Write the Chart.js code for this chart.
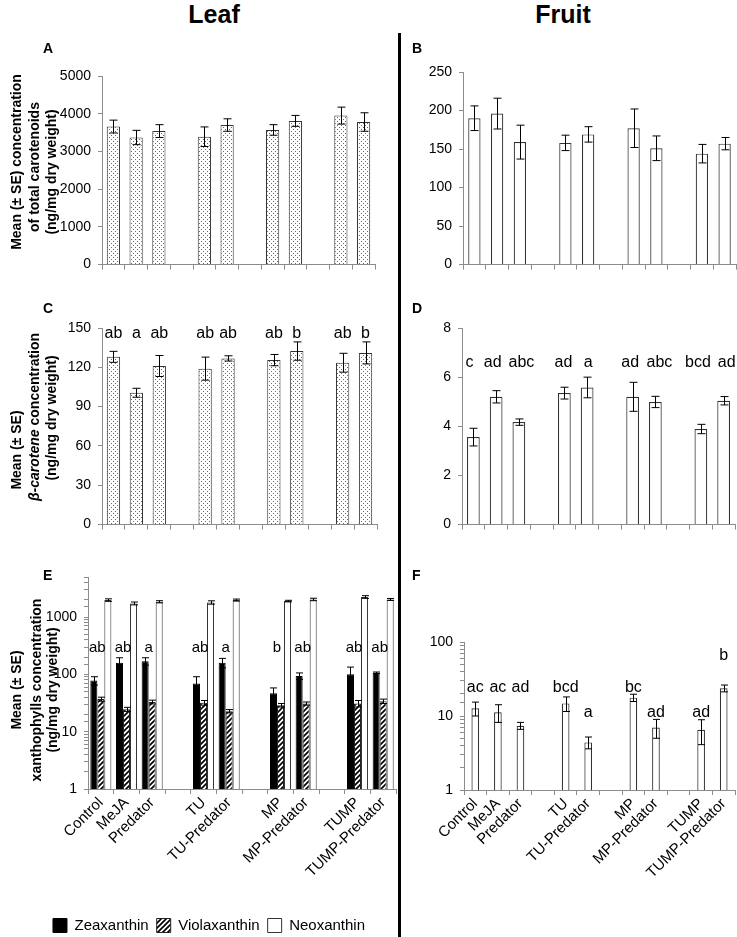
<!DOCTYPE html>
<html><head><meta charset="utf-8">
<script src="https://cdn.jsdelivr.net/npm/chart.js@4.4.1/dist/chart.umd.min.js"></script>
<style>
body{margin:0;background:#fff;}
#wrap{position:relative;width:737px;height:937px;overflow:hidden;font-family:"Liberation Sans",Arial,Helvetica,sans-serif;color:#000;}
canvas{position:absolute;}
.col{position:absolute;font-weight:bold;font-size:25px;line-height:25px;transform:translateX(-50%);white-space:nowrap;}
.pl{position:absolute;font-weight:bold;font-size:14px;line-height:14px;}
#sep{position:absolute;left:398px;top:33px;width:3px;height:904px;background:#000;}
</style></head>
<body><div id="wrap">
<div class="col" style="left:214px;top:2px">Leaf</div>
<div class="col" style="left:563px;top:2px">Fruit</div>
<canvas id="cA" width="398" height="240" style="left:0;top:40px"></canvas>
<canvas id="cB" width="337" height="240" style="left:400px;top:40px"></canvas>
<canvas id="cC" width="398" height="240" style="left:0;top:300px"></canvas>
<canvas id="cD" width="337" height="240" style="left:400px;top:300px"></canvas>
<canvas id="cE" width="398" height="383" style="left:0;top:560px"></canvas>
<canvas id="cF" width="337" height="377" style="left:400px;top:560px"></canvas>
<div id="sep"></div>
<div class="pl" style="left:43px;top:41px">A</div>
<div class="pl" style="left:412px;top:41px">B</div>
<div class="pl" style="left:43px;top:301px">C</div>
<div class="pl" style="left:412px;top:301px">D</div>
<div class="pl" style="left:43px;top:568px">E</div>
<div class="pl" style="left:412px;top:568px">F</div>
</div>
<script>
// ---------------- DATA ----------------
const treatments = ['Control','MeJA','Predator','TU','TU-Predator','MP','MP-Predator','TUMP','TUMP-Predator'];
const groupSizes = [3,2,2,2];

// A: leaf total carotenoids
const leafTotal   = [3660,3370,3540,3390,3700,3570,3810,3950,3780];
const leafTotalSE = [170,190,170,260,165,140,145,225,245];
const leafTotalTicks = {min:0, max:5000, step:1000};

// B: fruit total carotenoids
const fruitTotal   = [190,196,159,158,169,177,151,144,157];
const fruitTotalSE = [16,20,22,10,10,25,16,12,8];
const fruitTotalTicks = {min:0, max:250, step:50};

// C: leaf beta-carotene
const leafBeta   = [128,100.6,121,119,126.8,125.5,132.4,123.5,131];
const leafBetaSE = [4.2,3.4,8,8.8,2,4.3,7,7.2,8.4];
const leafBetaLetters = ['ab','a','ab','ab','ab','ab','b','ab','b'];
const leafBetaLetterY = 142;
const leafBetaTicks = {min:0, max:150, step:30};

// D: fruit beta-carotene
const fruitBeta   = [3.56,5.2,4.17,5.35,5.58,5.2,4.99,3.89,5.04];
const fruitBetaSE = [0.36,0.25,0.13,0.24,0.42,0.59,0.23,0.19,0.17];
const fruitBetaLetters = ['c','ad','abc','ad','a','ad','abc','bcd','ad'];
const fruitBetaLetterY = 6.4;
const fruitBetaTicks = {min:0, max:8, step:2};

// E: leaf xanthophylls (log)
const leafZea   = [78,160,170,69,160,47,94,101,107];
const leafZeaSE = [13,35,25,22,30,11,12,33,3];
const leafVio   = [37,24.6,33,32,22.8,29,31,31,34];
const leafVioSE = [3,2,2.5,3,1.5,2,2,4,3];
const leafNeo   = [1980,1730,1850,1800,1980,1900,2030,2240,2030];
const leafNeoSE = [100,100,80,120,80,60,100,120,80];
const leafXanLetters = ['ab','ab','a','ab','a','b','ab','ab','ab'];
const leafXanLetterY = 250;
const leafXanRange = {min:1, max:5000};

// F: fruit xanthophylls (log)
const fruitXan   = [12.7,11.2,7.4,14.8,4.4,17.7,7.0,6.5,23.7];
const fruitXanSE = [2.7,3,0.8,3.3,0.8,2,2,2.4,2.5];
const fruitXanLetters = ['ac','ac','ad','bcd','a','bc','ad','ad','b'];
const fruitXanLetterY = [21,21,21,21,9.6,21,9.6,9.6,58];
const fruitXanRange = {min:1, max:100};

const seriesNames = ['Zeaxanthin','Violaxanthin','Neoxanthin'];

// ---------------- HELPERS ----------------
function toSlots(arr){
  const out=[]; let k=0;
  groupSizes.forEach((g,gi)=>{ if(gi>0) out.push(null); for(let j=0;j<g;j++) out.push(arr[k++]); });
  return out;
}
const slotLabels = toSlots(treatments).map(v=>v===null?'':v);

const FONT = '"Liberation Sans", Arial, Helvetica, sans-serif';
Chart.defaults.font.family = FONT;
Chart.defaults.color = '#000';
const AX = '#8c8c8c';

function dotPattern(ctx){
  const c=document.createElement('canvas'); c.width=4; c.height=4;
  const g=c.getContext('2d'); g.fillStyle='#fff'; g.fillRect(0,0,4,4);
  g.fillStyle='#6a6a6a'; g.fillRect(1,1,1,1); g.fillRect(3,3,1,1);
  return ctx.createPattern(c,'repeat');
}
function hatchPattern(ctx){
  const s=5; const c=document.createElement('canvas'); c.width=s; c.height=s;
  const g=c.getContext('2d'); g.fillStyle='#fff'; g.fillRect(0,0,s,s);
  g.strokeStyle='#000'; g.lineWidth=1.7; g.beginPath();
  g.moveTo(-1,s+1); g.lineTo(s+1,-1);
  g.moveTo(-1,1); g.lineTo(1,-1);
  g.moveTo(s-1,s+1); g.lineTo(s+1,s-1);
  g.stroke();
  return ctx.createPattern(c,'repeat');
}

const errPlugin = {
  id:'err',
  afterDatasetsDraw(chart){
    const ctx=chart.ctx, y=chart.scales.y;
    chart.data.datasets.forEach((ds,di)=>{
      if(!ds.se) return;
      const meta=chart.getDatasetMeta(di);
      meta.data.forEach((bar,i)=>{
        const v=ds.data[i], e=ds.se[i];
        if(v==null||e==null) return;
        const x=Math.round(bar.x)+0.5, yt=y.getPixelForValue(v+e), yb=y.getPixelForValue(v-e);
        const cap=ds.cap||4;
        ctx.save(); ctx.strokeStyle='#000'; ctx.lineWidth=1;
        ctx.beginPath();
        ctx.moveTo(x,yt); ctx.lineTo(x,yb);
        ctx.moveTo(x-cap,yt); ctx.lineTo(x+cap,yt);
        ctx.moveTo(x-cap,yb); ctx.lineTo(x+cap,yb);
        ctx.stroke(); ctx.restore();
      });
    });
  }
};

const lettersPlugin = {
  id:'letters',
  afterDatasetsDraw(chart, args, opts){
    const labels=opts.labels; if(!labels) return;
    const meta=chart.getDatasetMeta(opts.anchor||0);
    const y=chart.scales.y, ctx=chart.ctx;
    ctx.save(); ctx.font=opts.size+'px '+FONT; ctx.fillStyle='#000';
    ctx.textAlign='center'; ctx.textBaseline='alphabetic';
    for(let i=0;i<labels.length;i++){
      const t=labels[i]; if(!t) continue;
      const bar=meta.data[i];
      const nudge=opts.dx?(opts.dx[i]||0):0;
      const x=bar.x+(opts.side==='right'?bar.width/2:0)+nudge;
      const lv=(typeof opts.y==='number')?opts.y:opts.y[i];
      ctx.fillText(t,x,y.getPixelForValue(lv));
    }
    ctx.restore();
  }
};

const yTitlePlugin = {
  id:'ytitle',
  afterDraw(chart, args, opts){
    const lines=opts.lines; if(!lines) return;
    const ctx=chart.ctx;
    for(let k=0;k<lines.length;k++){
      const l=lines[k];
      ctx.save(); ctx.translate(l.x,l.y); ctx.rotate(-Math.PI/2);
      ctx.fillStyle='#000'; ctx.textBaseline='middle'; ctx.textAlign='left';
      const segs=l.segs;
      const fonts=[]; let total=0;
      for(let i=0;i<segs.length;i++){
        fonts.push((segs[i].italic?'italic ':'')+'bold '+opts.size+'px '+FONT);
        ctx.font=fonts[i]; total+=ctx.measureText(segs[i].t).width;
      }
      let x=-total/2;
      for(let i=0;i<segs.length;i++){
        ctx.font=fonts[i]; ctx.fillText(segs[i].t,x,0); x+=ctx.measureText(segs[i].t).width;
      }
      ctx.restore();
    }
  }
};

function logLabel(v){ const l=Math.log10(v); return Math.abs(l-Math.round(l))<1e-9 ? String(Math.round(v)) : ''; }

function panel(id, o){
  const ctx=document.getElementById(id).getContext('2d');
  return new Chart(ctx, {
    type:'bar',
    data:{labels:slotLabels, datasets:o.datasets(ctx)},
    options:{
      responsive:false, animation:false, devicePixelRatio:1,
      layout:{padding:{top:o.padTop, right:o.padRight, left:o.padLeft||0, bottom:0}},
      datasets:{bar:{categoryPercentage:o.catPct, barPercentage:o.barPct}},
      plugins:{
        legend:o.legend||{display:false},
        tooltip:{enabled:false},
        letters:o.letters||{},
        ytitle:o.ytitle||{}
      },
      scales:{
        x:{
          grid:{offset:true, drawOnChartArea:false, tickLength:5, color:AX},
          border:{color:AX, width:1},
          ticks:{display:!!o.showX, autoSkip:false, minRotation:45, maxRotation:45, padding:0, font:{size:15}, color:'#000'},
          afterFit:s=>{s.height=o.xH;}
        },
        y:{
          type:o.log?'logarithmic':'linear', min:o.min, max:o.max,
          grid:{drawOnChartArea:false, tickLength:4, color:AX},
          border:{color:AX, width:1},
          ticks:{stepSize:o.step, autoSkip:false, padding:7, font:{size:14}, color:'#000',
                 callback:o.log?logLabel:(v=>String(v))},
          afterFit:s=>{s.width=o.yW;}
        }
      }
    },
    plugins:[errPlugin, lettersPlugin, yTitlePlugin]
  });
}

// A
panel('cA', {
  padTop:36, padRight:23, yW:102, xH:12, catPct:1, barPct:0.58,
  min:leafTotalTicks.min, max:leafTotalTicks.max, step:leafTotalTicks.step,
  datasets:ctx=>[{data:toSlots(leafTotal), se:toSlots(leafTotalSE), backgroundColor:dotPattern(ctx), borderColor:'#333', borderWidth:1, cap:4}],
  ytitle:{size:14, lines:[
    {x:17, y:122, segs:[{t:'Mean (± SE) concentration'}]},
    {x:35, y:127, segs:[{t:'of total carotenoids'}]},
    {x:52, y:132, segs:[{t:'(ng/mg dry weight)'}]}
  ]}
});
// B
panel('cB', {
  padTop:32, padRight:1, yW:63, xH:12, catPct:1, barPct:0.54,
  min:fruitTotalTicks.min, max:fruitTotalTicks.max, step:fruitTotalTicks.step,
  datasets:ctx=>[{data:toSlots(fruitTotal), se:toSlots(fruitTotalSE), backgroundColor:'#fff', borderColor:'#333', borderWidth:1.2, cap:4}]
});
// C
panel('cC', {
  padTop:28, padRight:21, yW:102, xH:13, catPct:1, barPct:0.58,
  min:leafBetaTicks.min, max:leafBetaTicks.max, step:leafBetaTicks.step,
  datasets:ctx=>[{data:toSlots(leafBeta), se:toSlots(leafBetaSE), backgroundColor:dotPattern(ctx), borderColor:'#333', borderWidth:1, cap:4}],
  letters:{labels:toSlots(leafBetaLetters), y:leafBetaLetterY, size:16},
  ytitle:{size:14, lines:[
    {x:17, y:150, segs:[{t:'Mean (± SE)'}]},
    {x:35, y:117, segs:[{t:'β-carotene', italic:true},{t:' concentration'}]},
    {x:52, y:118, segs:[{t:'(ng/mg dry weight)'}]}
  ]}
});
// D
panel('cD', {
  padTop:28, padRight:2, yW:62, xH:13, catPct:1, barPct:0.56,
  min:fruitBetaTicks.min, max:fruitBetaTicks.max, step:fruitBetaTicks.step,
  datasets:ctx=>[{data:toSlots(fruitBeta), se:toSlots(fruitBetaSE), backgroundColor:'#fff', borderColor:'#333', borderWidth:1.2, cap:4}],
  letters:{labels:toSlots(fruitBetaLetters), y:fruitBetaLetterY, size:16,
           dx:toSlots([-4,-3.5,2.5,-1,1,-2.5,4,-3,3])}
});
// E
panel('cE', {
  padTop:17, padRight:2, padLeft:22, yW:66, xH:121, catPct:0.82, barPct:1, log:true, showX:true,
  min:leafXanRange.min, max:leafXanRange.max,
  datasets:ctx=>[
    {label:seriesNames[0], data:toSlots(leafZea), se:toSlots(leafZeaSE), backgroundColor:'#000', borderColor:'#000', borderWidth:1, cap:3.5},
    {label:seriesNames[1], data:toSlots(leafVio), se:toSlots(leafVioSE), backgroundColor:hatchPattern(ctx), borderColor:'#222', borderWidth:1, cap:3.5},
    {label:seriesNames[2], data:toSlots(leafNeo), se:toSlots(leafNeoSE), backgroundColor:'#fff', borderColor:'#333', borderWidth:1, cap:3.5}
  ],
  legend:{display:true, position:'bottom', labels:{boxWidth:14, boxHeight:14, padding:8, font:{size:15}, color:'#000'}},
  letters:{labels:toSlots(leafXanLetters), y:leafXanLetterY, size:15, anchor:0, side:'right'},
  ytitle:{size:14, lines:[
    {x:17, y:130, segs:[{t:'Mean (± SE)'}]},
    {x:37, y:130, segs:[{t:'xanthophylls concentration'}]},
    {x:53, y:130, segs:[{t:'(ng/mg dry weight)'}]}
  ]}
});
// F
panel('cF', {
  padTop:82, padRight:2, yW:64, xH:147, catPct:1, barPct:0.34, log:true, showX:true,
  min:fruitXanRange.min, max:fruitXanRange.max,
  datasets:ctx=>[{label:seriesNames[2], data:toSlots(fruitXan), se:toSlots(fruitXanSE), backgroundColor:'#fff', borderColor:'#333', borderWidth:1.2, cap:3.5}],
  letters:{labels:toSlots(fruitXanLetters), y:toSlots(fruitXanLetterY), size:16}
});
</script>
</body></html>
